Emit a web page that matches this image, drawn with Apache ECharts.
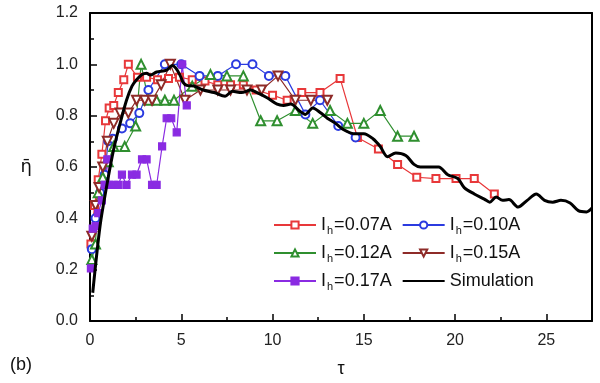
<!DOCTYPE html>
<html>
<head>
<meta charset="utf-8">
<script src="https://cdn.jsdelivr.net/npm/echarts@6/dist/echarts.min.js"></script>
<style>
  html, body { margin: 0; padding: 0; background: #fff; }
  #char1 { width: 600px; height: 383px; }
</style>
</head>
<body>
<div id="char1"></div>
<script>
// tick settings
var xTicks = [0, 5, 10, 15, 20, 25];
var yTicks = [0.0, 0.2, 0.4, 0.6, 0.8, 1.0, 1.2];

var names = ['Ih=0.07A', 'Ih=0.10A', 'Ih=0.12A', 'Ih=0.15A', 'Ih=0.17A', 'Simulation'];

// [tau, eta] pairs
var ih007 = [[0.05,0.30],[0.25,0.45],[0.45,0.55],[0.65,0.65],[0.85,0.78],[1.05,0.83],[1.3,0.84],[1.55,0.89],[1.85,0.94],[2.1,1.0],
    [2.6,0.95],[3.1,0.95],[3.7,0.94],[4.3,0.945],[4.9,0.95],[5.6,0.94],[6.3,0.935],[7.0,0.92],[7.7,0.92],[8.4,0.92],
    [9.1,0.9],[10.0,0.88],[10.8,0.86],[11.6,0.89],[12.6,0.89],[13.7,0.945],[14.65,0.715],[15.8,0.67],[16.85,0.61],[17.9,0.56],
    [18.95,0.555],[20.05,0.555],[21.05,0.555],[22.15,0.495]];
var ih010 = [[0.1,0.28],[0.3,0.40],[0.55,0.50],[0.8,0.57],[1.0,0.70],[1.25,0.71],[1.75,0.75],[2.2,0.77],[2.7,0.81],[3.2,0.90],
    [4.1,1.0],[5.0,1.0],[6.0,0.955],[7.0,0.955],[8.0,1.0],[8.9,1.0],[9.8,0.955],[10.7,0.955],[11.8,0.805],[12.6,0.86],
    [13.6,0.76],[14.55,0.715]];
var ih012 = [[0.1,0.24],[0.3,0.30],[0.45,0.50],[0.7,0.56],[1.0,0.62],[1.3,0.68],[1.9,0.68],[2.5,0.76],[2.8,1.0],[3.2,0.86],
    [3.65,0.86],[4.1,0.86],[4.6,0.86],[5.6,0.915],[6.6,0.96],[7.5,0.955],[8.4,0.955],[9.35,0.78],[10.25,0.78],[11.25,0.82],
    [12.2,0.77],[13.15,0.82],[14.1,0.77],[15.0,0.77],[15.9,0.82],[16.85,0.72],[17.75,0.72]];
var ih015 = [[0.1,0.33],[0.3,0.45],[0.5,0.52],[0.7,0.60],[0.95,0.70],[1.3,0.77],[1.65,0.81],[2.1,0.81],[2.55,0.86],[3.0,0.86],
    [3.4,0.86],[3.9,0.92],[4.4,1.0],[5.2,0.86],[6.05,0.90],[7.0,0.90],[7.7,0.90],[8.6,0.90],[9.4,0.90],[10.3,0.955],
    [11.25,0.86],[12.1,0.86],[13.0,0.86]];
var ih017 = [[0.05,0.205],[0.15,0.36],[0.3,0.37],[0.45,0.42],[0.65,0.47],[0.8,0.53],[0.95,0.63],[1.05,0.53],[1.3,0.53],[1.55,0.53],
    [1.75,0.57],[2.0,0.53],[2.3,0.57],[2.55,0.57],[2.85,0.63],[3.1,0.63],[3.4,0.53],[3.65,0.53],[3.95,0.68],[4.2,0.79],
    [4.45,0.79],[4.75,0.735],[5.05,1.0],[5.3,0.84]];
var simulation = [[0.15,0.11],[0.55,0.37],[0.9,0.52],[1.3,0.67],[1.65,0.77],[2.0,0.86],[2.3,0.915],[2.55,0.94],[2.85,0.96],[3.1,0.965],
    [3.3,0.958],[3.65,0.97],[4.2,0.977],[4.5,0.995],[4.7,0.985],[4.95,0.955],[5.1,0.93],[5.3,0.918],[5.7,0.915],[6.2,0.9],
    [6.8,0.89],[7.4,0.876],[7.8,0.895],[8.3,0.89],[8.8,0.9],[9.15,0.89],[9.7,0.87],[10.25,0.845],[10.6,0.84],[11.0,0.845],
    [11.45,0.82],[11.8,0.805],[12.2,0.83],[12.65,0.81],[13.0,0.79],[13.45,0.77],[13.9,0.745],[14.45,0.73],[15.0,0.73],[15.5,0.71],
    [15.9,0.68],[16.3,0.64],[16.75,0.655],[17.3,0.645],[17.75,0.61],[18.1,0.6],[18.5,0.6],[19.1,0.6],[19.6,0.57],[20.15,0.555],
    [20.5,0.52],[21.05,0.495],[21.6,0.475],[21.9,0.463],[22.25,0.483],[22.6,0.47],[22.95,0.473],[23.45,0.444],[23.95,0.47],[24.45,0.495],
    [24.9,0.47],[25.35,0.463],[25.8,0.47],[26.3,0.46],[26.75,0.43],[27.2,0.425],[27.5,0.44]];

var FONT = '"Liberation Sans", Arial, sans-serif';

function legendLabel(name) {
    if (name === 'Simulation') return '{n|Simulation}';
    return '{n|I}{s|h}{n|' + name.slice(2) + '}';
}

function expSeries(name, data, color, symbol, size, rotate) {
    return {
        name: name,
        type: 'line',
        data: data,
        symbol: symbol,
        symbolSize: size,
        symbolRotate: rotate || 0,
        showAllSymbol: true,
        lineStyle: { color: color, width: 1.2 },
        itemStyle: { color: color, borderColor: color, borderWidth: 1.2 },
        z: 3
    };
}

var myChart = echarts.init(document.getElementById('char1'));
var legendCommon = {
    orient: 'horizontal',
    left: 268,
    itemWidth: 42,
    itemHeight: 9,
    itemGap: 10,
    selectedMode: false,
    formatter: legendLabel,
    textStyle: {
        width: 74,
        rich: {
            n: { fontSize: 18, fontFamily: FONT, color: '#111' },
            s: { fontSize: 11, fontFamily: FONT, color: '#111', padding: [12, 1, 0, 1] }
        }
    }
};

var option = {
    animation: false,
    backgroundColor: '#fff',
    textStyle: { fontFamily: FONT },
    grid: { left: 90, right: 8, top: 13, bottom: 60 },
    legend: [
        Object.assign({}, legendCommon, { top: 211, data: [names[0], names[1]] }),
        Object.assign({}, legendCommon, { top: 239, data: [names[2], names[3]] }),
        Object.assign({}, legendCommon, { top: 267, data: [names[4], { name: names[5], itemStyle: { opacity: 0 } }] })
    ],
    graphic: [{
        type: 'text', left: 10, top: 356,
        style: { text: '(b)', fontSize: 18, fontFamily: FONT, fill: '#111' }
    }],
    xAxis: [{
        type: 'value',
        min: xTicks[0],
        max: 27.5,
        interval: xTicks[1] - xTicks[0],
        name: 'τ',
        nameLocation: 'middle',
        nameGap: 39,
        nameTextStyle: { fontSize: 18, color: '#111', fontFamily: FONT },
        axisLine: { lineStyle: { color: '#000', width: 2 } },
        axisTick: { inside: true, length: 7, lineStyle: { color: '#000', width: 1.5 } },
        minorTick: { show: true, splitNumber: 2, length: 4, lineStyle: { color: '#000', width: 1.5 } },
        axisLabel: { fontSize: 16, color: '#222', margin: 12, showMaxLabel: false },
        splitLine: { show: false }
    }, {
        type: 'value', position: 'top', min: 0, max: 27.5,
        axisLine: { show: true, onZero: false, lineStyle: { color: '#000', width: 2 } },
        axisTick: { show: false }, axisLabel: { show: false }, splitLine: { show: false }
    }],
    yAxis: [{
        type: 'value',
        min: yTicks[0],
        max: yTicks[yTicks.length - 1],
        interval: 0.2,
        name: 'η\u0304',
        nameLocation: 'middle',
        nameRotate: 0,
        nameGap: 58,
        nameTextStyle: { fontSize: 18, color: '#111', fontFamily: '"DejaVu Sans", sans-serif' },
        axisLine: { show: true, lineStyle: { color: '#000', width: 2 } },
        axisTick: { inside: true, length: 7, lineStyle: { color: '#000', width: 1.5 } },
        minorTick: { show: true, splitNumber: 2, length: 4, lineStyle: { color: '#000', width: 1.5 } },
        axisLabel: { fontSize: 16, color: '#222', margin: 12, formatter: function (v) { return v.toFixed(1); } },
        splitLine: { show: false }
    }, {
        type: 'value', position: 'right', min: 0, max: 1.2,
        axisLine: { show: true, onZero: false, lineStyle: { color: '#000', width: 2 } },
        axisTick: { show: false }, axisLabel: { show: false }, splitLine: { show: false }
    }],
    series: [
        expSeries(names[0], ih007, '#e8383a', 'emptyRect', 7),
        expSeries(names[1], ih010, '#2b3be0', 'emptyCircle', 8),
        expSeries(names[2], ih012, '#2f8f2f', 'emptyTriangle', 9),
        expSeries(names[3], ih015, '#8e2b28', 'emptyTriangle', 9, 180),
        expSeries(names[4], ih017, '#8a2be2', 'rect', 7),
        {
            name: names[5],
            type: 'line',
            data: simulation,
            symbol: 'none',
            smooth: 0.3,
            lineStyle: { color: '#000', width: 3 },
            itemStyle: { color: '#000' },
            z: 4
        }
    ]
};

myChart.setOption(option);
window.addEventListener('resize', function () { myChart.resize(); });
</script>
</body>
</html>
